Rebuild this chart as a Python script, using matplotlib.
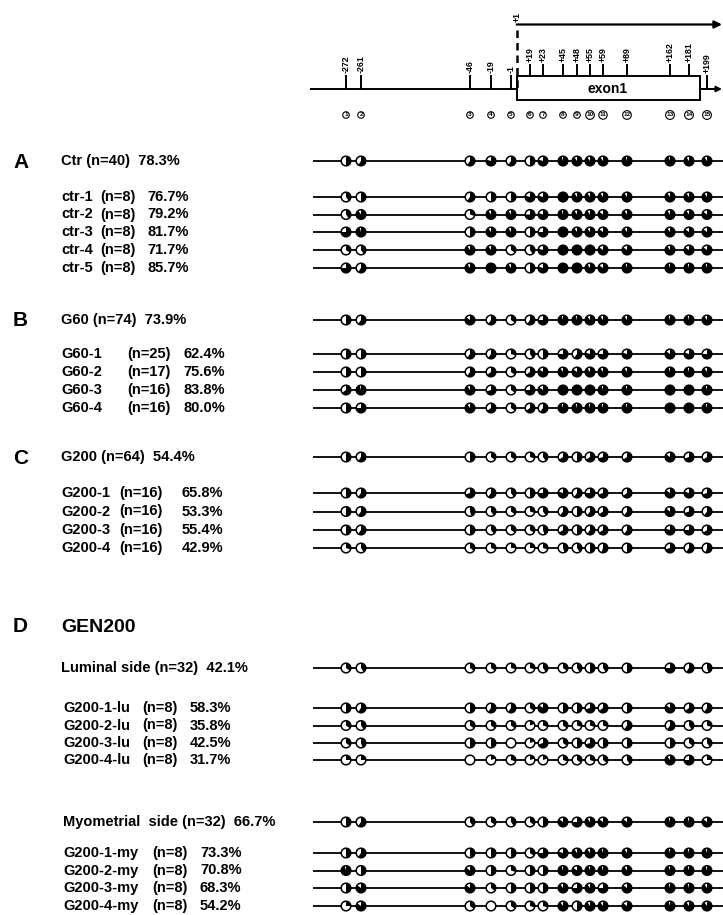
import matplotlib
matplotlib.use('Agg')
import matplotlib.pyplot as plt
from matplotlib.patches import Circle, Wedge, Rectangle

plt.rcParams['font.family'] = ['Liberation Sans', 'DejaVu Sans']

# ---------------- data ----------------
cpg_sites = ['-272', '-261', '-46', '-19', '-1', '+19', '+23', '+45', '+48',
             '+55', '+59', '+89', '+162', '+181', '+199']
site_numbers = list(range(1, 16))

# A: control
ctr_label = "Ctr (n=40)"
ctr_pct = "78.3%"
ctr_vals = [0.5, 0.6, 0.6, 0.8, 0.6, 0.5, 0.8, 0.95, 0.9, 0.9, 0.9, 0.95, 0.95, 0.9, 0.9]
ctr_sub_names = ["ctr-1", "ctr-2", "ctr-3", "ctr-4", "ctr-5"]
ctr_sub_n = ["(n=8)", "(n=8)", "(n=8)", "(n=8)", "(n=8)"]
ctr_sub_pct = ["76.7%", "79.2%", "81.7%", "71.7%", "85.7%"]
ctr_sub_vals = [
    [0.4, 0.5, 0.6, 0.5, 0.5, 0.8, 0.8, 1.0, 0.9, 0.9, 0.9, 0.9, 0.9, 0.9, 0.9],
    [0.4, 0.9, 0.3, 0.9, 0.9, 0.75, 0.8, 0.95, 0.9, 0.9, 0.85, 0.9, 0.9, 0.9, 0.85],
    [0.75, 0.95, 0.5, 0.9, 0.9, 0.5, 0.75, 1.0, 0.9, 0.9, 0.85, 0.9, 0.9, 0.85, 0.85],
    [0.35, 0.4, 0.9, 0.9, 0.35, 0.4, 0.8, 1.0, 1.0, 1.0, 0.85, 0.85, 0.9, 0.85, 0.85],
    [0.75, 0.6, 0.9, 1.0, 0.9, 0.5, 0.8, 1.0, 1.0, 0.9, 0.85, 0.95, 0.95, 0.95, 0.95],
]

# B: G60
g60_label = "G60 (n=74)"
g60_pct = "73.9%"
g60_vals = [0.5, 0.6, 0.85, 0.6, 0.35, 0.6, 0.75, 0.95, 0.95, 0.9, 0.9, 0.9, 0.95, 0.95, 0.9]
g60_sub_names = ["G60-1", "G60-2", "G60-3", "G60-4"]
g60_sub_n = ["(n=25)", "(n=17)", "(n=16)", "(n=16)"]
g60_sub_pct = ["62.4%", "75.6%", "83.8%", "80.0%"]
g60_sub_vals = [
    [0.5, 0.5, 0.6, 0.6, 0.3, 0.4, 0.5, 0.75, 0.6, 0.8, 0.75, 0.8, 0.85, 0.8, 0.75],
    [0.5, 0.5, 0.6, 0.65, 0.35, 0.65, 0.85, 0.9, 0.85, 0.9, 0.9, 0.9, 0.95, 0.95, 0.9],
    [0.65, 0.95, 0.9, 0.7, 0.35, 0.75, 0.85, 1.0, 1.0, 1.0, 0.95, 0.95, 1.0, 1.0, 0.95],
    [0.5, 0.75, 0.9, 0.65, 0.35, 0.65, 0.6, 0.95, 0.95, 0.95, 0.95, 0.95, 1.0, 1.0, 0.95],
]

# C: G200
g200_label = "G200 (n=64)"
g200_pct = "54.4%"
g200_vals = [0.5, 0.6, 0.5, 0.35, 0.35, 0.3, 0.4, 0.65, 0.5, 0.65, 0.7, 0.65, 0.85, 0.7, 0.65]
g200_sub_names = ["G200-1", "G200-2", "G200-3", "G200-4"]
g200_sub_n = ["(n=16)", "(n=16)", "(n=16)", "(n=16)"]
g200_sub_pct = ["65.8%", "53.3%", "55.4%", "42.9%"]
g200_sub_vals = [
    [0.5, 0.6, 0.7, 0.6, 0.4, 0.5, 0.75, 0.8, 0.6, 0.75, 0.7, 0.65, 0.85, 0.8, 0.7],
    [0.5, 0.6, 0.45, 0.4, 0.35, 0.3, 0.4, 0.6, 0.5, 0.6, 0.65, 0.6, 0.85, 0.7, 0.6],
    [0.5, 0.6, 0.5, 0.4, 0.35, 0.35, 0.45, 0.65, 0.5, 0.6, 0.65, 0.6, 0.8, 0.75, 0.65],
    [0.3, 0.4, 0.35, 0.3, 0.25, 0.25, 0.3, 0.45, 0.4, 0.5, 0.55, 0.5, 0.7, 0.6, 0.55],
]

# D: GEN200
gen_title = "GEN200"
lu_label = "Luminal side (n=32)"
lu_pct = "42.1%"
lu_vals = [0.35, 0.4, 0.35, 0.35, 0.3, 0.3, 0.4, 0.35, 0.4, 0.5, 0.4, 0.5, 0.75, 0.6, 0.45]
lu_sub_names = ["G200-1-lu", "G200-2-lu", "G200-3-lu", "G200-4-lu"]
lu_sub_n = ["(n=8)", "(n=8)", "(n=8)", "(n=8)"]
lu_sub_pct = ["58.3%", "35.8%", "42.5%", "31.7%"]
lu_sub_vals = [
    [0.5, 0.6, 0.5, 0.6, 0.6, 0.35, 0.85, 0.5, 0.5, 0.7, 0.65, 0.5, 0.85, 0.65, 0.6],
    [0.35, 0.4, 0.35, 0.35, 0.35, 0.2, 0.3, 0.35, 0.3, 0.3, 0.3, 0.6, 0.6, 0.4, 0.3],
    [0.35, 0.45, 0.5, 0.5, 0.0, 0.2, 0.7, 0.35, 0.5, 0.7, 0.5, 0.5, 0.5, 0.35, 0.4],
    [0.25, 0.25, 0.0, 0.2, 0.3, 0.2, 0.2, 0.3, 0.35, 0.3, 0.35, 0.4, 0.9, 0.75, 0.25],
]
my_label = "Myometrial  side (n=32)"
my_pct = "66.7%"
my_vals = [0.5, 0.6, 0.4, 0.35, 0.4, 0.35, 0.5, 0.85, 0.75, 0.9, 0.85, 0.85, 0.95, 0.95, 0.85]
my_sub_names = ["G200-1-my", "G200-2-my", "G200-3-my", "G200-4-my"]
my_sub_n = ["(n=8)", "(n=8)", "(n=8)", "(n=8)"]
my_sub_pct = ["73.3%", "70.8%", "68.3%", "54.2%"]
my_sub_vals = [
    [0.5, 0.6, 0.5, 0.5, 0.5, 0.35, 0.75, 0.8, 0.9, 0.9, 0.95, 0.9, 0.95, 0.95, 0.95],
    [0.95, 0.5, 0.85, 0.5, 0.3, 0.5, 0.5, 0.95, 0.85, 0.95, 0.95, 0.9, 0.95, 0.95, 0.95],
    [0.5, 0.85, 0.85, 0.35, 0.5, 0.5, 0.5, 0.9, 0.75, 0.9, 0.75, 0.85, 0.95, 0.95, 0.9],
    [0.25, 0.85, 0.35, 0.0, 0.35, 0.3, 0.3, 0.9, 0.5, 0.9, 0.9, 0.85, 0.95, 0.9, 0.9],
]

# ---------------- layout ----------------
site_x = [346, 361, 470, 491, 511, 530, 543, 563, 577, 590, 603, 627, 670, 689, 707]
R = 4.8
LINE_X0 = 313
FS = 10.5

fig = plt.figure(figsize=(7.23, 9.15), dpi=100)
ax = fig.add_axes([0, 0, 1, 1])
ax.set_xlim(0, 723)
ax.set_ylim(915, 0)
ax.axis('off')


def draw_row(y, vals):
    ax.plot([LINE_X0, 730], [y, y], color='black', lw=1.3, solid_capstyle='butt', zorder=1)
    for x, v in zip(site_x, vals):
        ax.add_patch(Circle((x, y), R, facecolor='white', edgecolor='none', zorder=2))
        if v > 0:
            ax.add_patch(Wedge((x, y), R, -90, -90 + 360 * v, facecolor='black',
                               edgecolor='none', zorder=3))
        ax.add_patch(Circle((x, y), R, facecolor='none', edgecolor='black', lw=1.1, zorder=4))


def txt(x, y, s, size=FS, weight='bold', **kw):
    ax.text(x, y, s, fontsize=size, fontweight=weight, ha='left', va='center', **kw)


def header_row(y, label, pct, vals, x0=61):
    txt(x0, y, label + "  " + pct)
    draw_row(y, vals)


def sub_rows(ys, names, ns, pcts, vals, n_x, pct_x, x0=61):
    for y, nm, n, p, v in zip(ys, names, ns, pcts, vals):
        txt(x0, y, nm)
        txt(n_x, y, n)
        txt(pct_x, y, p)
        draw_row(y, v)


# ---------------- gene header ----------------
GY = 89
ax.plot([311, 516.7], [GY, GY], color='black', lw=1.4, zorder=1)
ax.add_patch(Rectangle((516.7, 76), 183.3, 24, facecolor='white', edgecolor='black',
                       lw=1.4, zorder=2))
ax.text(608, 89, "exon1", fontsize=10, fontweight='bold', ha='center', va='center', zorder=3)
ax.annotate('', xy=(722, GY), xytext=(700, GY),
            arrowprops=dict(arrowstyle='-|>', lw=1.4, color='black', mutation_scale=8,
                            shrinkA=0, shrinkB=0))
for x, lab in zip(site_x, cpg_sites):
    if 516.7 < x < 700:
        ax.plot([x, x], [65, 76], color='black', lw=1.4)
        ax.text(x, 62, lab, rotation=90, fontsize=6.3, fontweight='bold', ha='center', va='bottom')
    else:
        ax.plot([x, x], [76, GY], color='black', lw=1.4)
        ax.text(x, 73, lab, rotation=90, fontsize=6.3, fontweight='bold', ha='center', va='bottom')
# transcription start
ax.plot([516.7, 516.7], [30, GY], color='black', lw=1.8, ls=(0, (3, 2)))
ax.text(516.7, 22, "+1", rotation=90, fontsize=6.3, fontweight='bold', ha='center', va='bottom')
ax.annotate('', xy=(722, 24.5), xytext=(516.7, 24.5),
            arrowprops=dict(arrowstyle='-|>', lw=1.6, color='black', mutation_scale=11,
                            shrinkA=0, shrinkB=0))
for x, num in zip(site_x, site_numbers):
    ax.text(x, 115, str(num), fontsize=4.6, fontweight='bold', ha='center', va='center',
            bbox=dict(boxstyle='circle,pad=0.12', fc='white', ec='black', lw=0.8))

# ---------------- panels ----------------
LET = 15
ax.text(13, 162, "A", fontsize=LET, fontweight='bold', va='center')
header_row(161, ctr_label, ctr_pct, ctr_vals)
sub_rows([197, 214.5, 232, 250, 268], ctr_sub_names, ctr_sub_n, ctr_sub_pct, ctr_sub_vals,
         100, 147)

ax.text(13, 321, "B", fontsize=LET, fontweight='bold', va='center')
header_row(320, g60_label, g60_pct, g60_vals)
sub_rows([354, 372, 390, 408], g60_sub_names, g60_sub_n, g60_sub_pct, g60_sub_vals,
         127, 183)

ax.text(13, 458, "C", fontsize=LET, fontweight='bold', va='center')
header_row(457, g200_label, g200_pct, g200_vals)
sub_rows([493, 511.5, 530, 548], g200_sub_names, g200_sub_n, g200_sub_pct, g200_sub_vals,
         119, 182)

ax.text(13, 627, "D", fontsize=LET, fontweight='bold', va='center')
ax.text(61, 627, gen_title, fontsize=14, fontweight='bold', va='center', ha='left')
header_row(668, lu_label, lu_pct, lu_vals)
sub_rows([708, 725.5, 743, 760], lu_sub_names, lu_sub_n, lu_sub_pct, lu_sub_vals,
         142, 190, x0=63)
header_row(822, my_label, my_pct, my_vals, x0=63)
sub_rows([853, 870.5, 888, 906], my_sub_names, my_sub_n, my_sub_pct, my_sub_vals,
         152, 200, x0=63)

fig.savefig('out.png', dpi=100)
